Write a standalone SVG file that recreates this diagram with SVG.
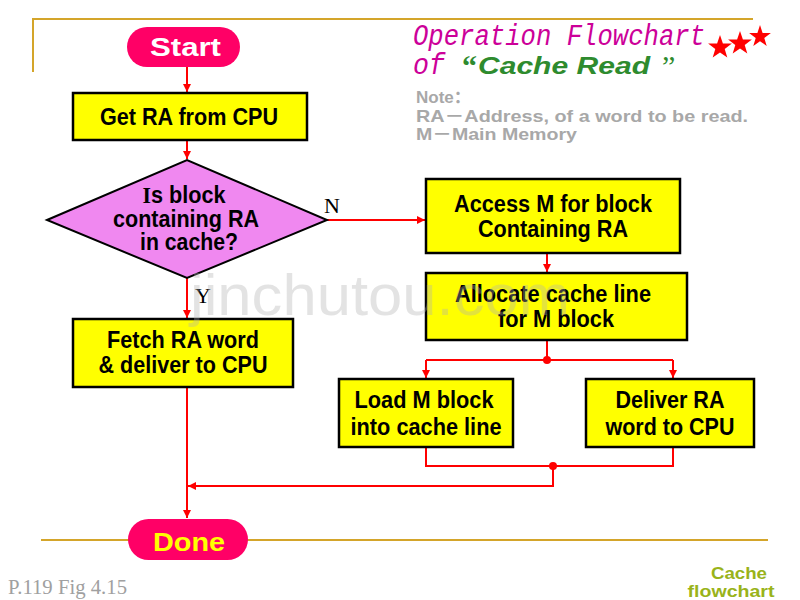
<svg xmlns="http://www.w3.org/2000/svg" width="800" height="600" viewBox="0 0 800 600">
<defs>
<marker id="arr" viewBox="0 0 10 10" refX="10" refY="5" markerWidth="9" markerHeight="8" markerUnits="userSpaceOnUse" orient="auto">
<path d="M0,0 L10,5 L0,10 z" fill="#FF0000"/>
</marker>
<style>
.box{fill:#FFFF00;stroke:#000;stroke-width:2.5}
.pill{fill:#FF0066}
.bt{font-family:"Liberation Sans",Arial,sans-serif;font-weight:bold;font-size:23px;fill:#000;text-anchor:middle}
.con{fill:none;stroke:#FF0000;stroke-width:2}
.gold{stroke:#D4A52A;stroke-width:2;fill:none}
.note{font-family:"Liberation Sans",Arial,"Noto Sans CJK SC",sans-serif;font-weight:bold;font-size:17px;fill:#A8A8A8}
.lbl{font-family:"Liberation Serif","Times New Roman",serif;font-size:22px;fill:#000}
.ttl{font-family:"Liberation Mono","Courier New",monospace;font-style:italic;font-size:30px;fill:#CC0099}
</style>
</defs>
<rect width="800" height="600" fill="#FFFFFF"/>
<g id="frame">
<path class="gold" d="M33,72 V19 H753"/>
<path class="gold" d="M41,540 H768"/>
</g>
<g id="title">
<text class="ttl" x="413" y="45" textLength="292" lengthAdjust="spacingAndGlyphs">Operation Flowchart</text>
<text class="ttl" x="413" y="74" textLength="32" lengthAdjust="spacingAndGlyphs">of</text>
<text x="462" y="76" font-family="Liberation Serif,serif" font-weight="bold" font-size="30" fill="#2E8B2E">“</text>
<text x="478" y="74" font-family="Liberation Sans,Arial,sans-serif" font-weight="bold" font-style="italic" font-size="23" fill="#2E8B2E" textLength="172" lengthAdjust="spacingAndGlyphs">Cache Read</text>
<text x="662" y="76" font-family="Liberation Serif,serif" font-size="30" fill="#2E8B2E">”</text>
<g fill="#FF0000">
<polygon points="720,35 722.9,43.5 731.9,43.6 724.7,49 727.3,57.6 720,52.5 712.7,57.6 715.3,49 708.1,43.6 717.1,43.5"/>
<polygon points="740,31 742.9,39.5 751.9,39.6 744.7,45 747.3,53.6 740,48.5 732.7,53.6 735.3,45 728.1,39.6 737.1,39.5"/>
<polygon points="760,25 762.6,32.9 770.9,33 764.3,38 766.7,45.9 760,41.2 753.3,45.9 755.7,38 749.1,33 757.4,32.9"/>
</g>
</g>
<g id="note">
<text class="note" x="416" y="103">Note：</text>
<text class="note" x="416" y="122" textLength="332" lengthAdjust="spacingAndGlyphs">RA－Address, of a word to be read.</text>
<text class="note" x="416" y="140" textLength="161" lengthAdjust="spacingAndGlyphs">M－Main Memory</text>
</g>
<g id="connectors">
<path class="con" d="M187,67 V92" marker-end="url(#arr)"/>
<path class="con" d="M187,140 V159" marker-end="url(#arr)"/>
<path class="con" d="M327,220 H425" marker-end="url(#arr)"/>
<path class="con" d="M187,278 V318" marker-end="url(#arr)"/>
<path class="con" d="M547,253 V272" marker-end="url(#arr)"/>
<path class="con" d="M547,340 V360"/>
<path class="con" d="M426,360 H673"/>
<path class="con" d="M426,360 V378" marker-end="url(#arr)"/>
<path class="con" d="M673,360 V378" marker-end="url(#arr)"/>
<path class="con" d="M426,447 V466 H673 V447"/>
<path class="con" d="M553,466 V486 H188" marker-end="url(#arr)"/>
<path class="con" d="M187,387 V518" marker-end="url(#arr)"/>
<circle cx="547" cy="360" r="4" fill="#FF0000"/>
<circle cx="553" cy="466" r="4" fill="#FF0000"/>
</g>
<g id="labels">
<text class="lbl" x="324" y="213">N</text>
<text class="lbl" x="195" y="303">Y</text>
</g>
<g id="start">
<rect class="pill" x="127" y="27" width="113" height="40" rx="20"/>
<text x="185.5" y="56" font-family="Liberation Sans,Arial,sans-serif" font-weight="bold" font-size="25" fill="#FFFFFF" text-anchor="middle" textLength="71" lengthAdjust="spacingAndGlyphs">Start</text>
</g>
<g id="getra">
<rect class="box" x="73" y="93" width="234" height="47"/>
<text class="bt" x="189" y="125" textLength="178" lengthAdjust="spacingAndGlyphs">Get RA from CPU</text>
</g>
<g id="decision">
<polygon points="47,220 187,160 327,220 187,278" fill="#F088F0" stroke="#000" stroke-width="2"/>
<text class="bt" x="184" y="203" textLength="83" lengthAdjust="spacingAndGlyphs"><tspan font-family="Liberation Serif,serif">I</tspan>s block</text>
<text class="bt" x="186" y="227" textLength="146" lengthAdjust="spacingAndGlyphs">containing RA</text>
<text class="bt" x="189" y="250" textLength="98" lengthAdjust="spacingAndGlyphs">in cache?</text>
</g>
<g id="fetch">
<rect class="box" x="73" y="319" width="220" height="68"/>
<text class="bt" x="183" y="348" textLength="152" lengthAdjust="spacingAndGlyphs">Fetch RA word</text>
<text class="bt" x="183" y="373" textLength="169" lengthAdjust="spacingAndGlyphs">&amp; deliver to CPU</text>
</g>
<g id="access">
<rect class="box" x="426" y="179" width="254" height="74"/>
<text class="bt" x="553" y="212" textLength="198" lengthAdjust="spacingAndGlyphs">Access M for block</text>
<text class="bt" x="553" y="237" textLength="150" lengthAdjust="spacingAndGlyphs">Containing RA</text>
</g>
<g id="allocate">
<rect class="box" x="426" y="273" width="261" height="67"/>
<text class="bt" x="553" y="302" textLength="196" lengthAdjust="spacingAndGlyphs">Allocate cache line</text>
<text class="bt" x="556" y="327" textLength="116" lengthAdjust="spacingAndGlyphs">for M block</text>
</g>
<g id="load">
<rect class="box" x="339" y="379" width="174" height="68"/>
<text class="bt" x="424" y="408" textLength="139" lengthAdjust="spacingAndGlyphs">Load M block</text>
<text class="bt" x="426" y="435" textLength="151" lengthAdjust="spacingAndGlyphs">into cache line</text>
</g>
<g id="deliver">
<rect class="box" x="586" y="379" width="168" height="68"/>
<text class="bt" x="670" y="408" textLength="109" lengthAdjust="spacingAndGlyphs">Deliver RA</text>
<text class="bt" x="670" y="435" textLength="129" lengthAdjust="spacingAndGlyphs">word to CPU</text>
</g>
<g id="done">
<rect class="pill" x="128" y="519" width="120" height="41" rx="20.5"/>
<text x="189" y="551" font-family="Liberation Sans,Arial,sans-serif" font-weight="bold" font-size="25" fill="#FFFF00" text-anchor="middle" textLength="72" lengthAdjust="spacingAndGlyphs">Done</text>
</g>
<g id="footer">
<text x="8" y="594" font-family="Liberation Serif,'Times New Roman',serif" font-size="20" fill="#A0A0A0" textLength="119" lengthAdjust="spacingAndGlyphs">P.119 Fig 4.15</text>
<text x="739" y="579" font-family="Liberation Sans,Arial,sans-serif" font-weight="bold" font-size="17" fill="#99B31A" text-anchor="middle" textLength="56" lengthAdjust="spacingAndGlyphs">Cache</text>
<text x="731" y="597" font-family="Liberation Sans,Arial,sans-serif" font-weight="bold" font-size="17" fill="#99B31A" text-anchor="middle" textLength="87" lengthAdjust="spacingAndGlyphs">flowchart</text>
</g>
<text x="190" y="315" font-family="Liberation Sans,Arial,sans-serif" font-size="58" fill="#B0B0B0" fill-opacity="0.35" textLength="380" lengthAdjust="spacingAndGlyphs">jinchutou.com</text>
</svg>
